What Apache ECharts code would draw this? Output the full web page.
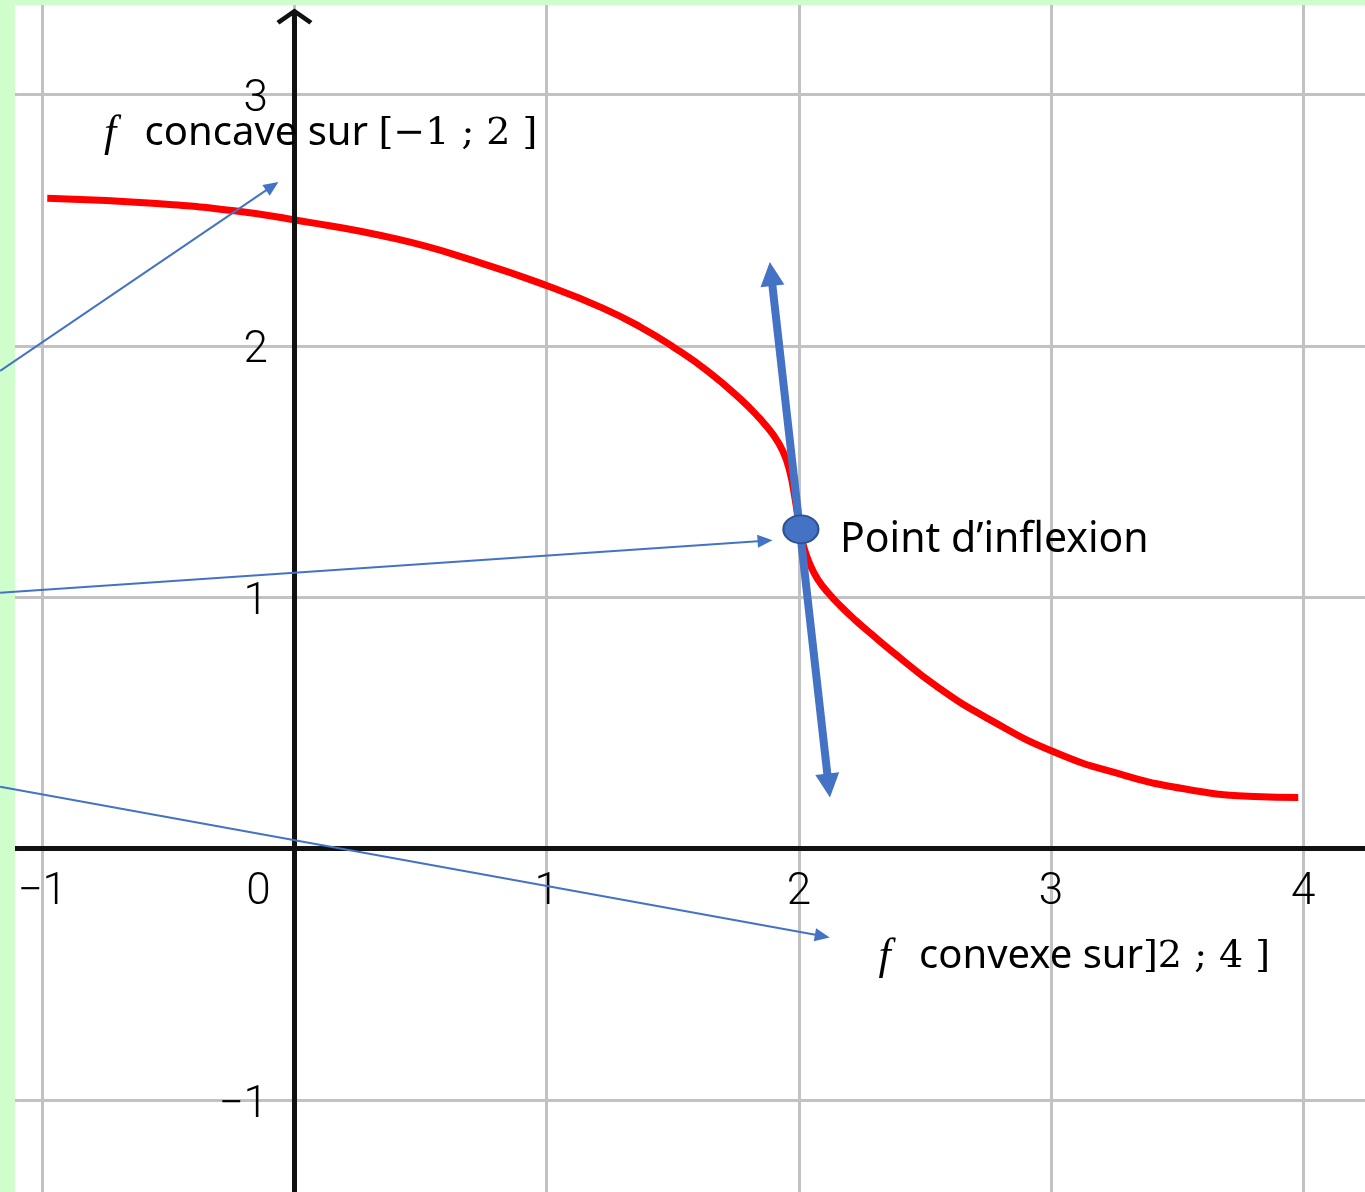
<!DOCTYPE html>
<html>
<head>
<meta charset="utf-8">
<script src="https://cdn.jsdelivr.net/npm/echarts@6/dist/echarts.min.js"></script>
<style>
html, body { margin: 0; padding: 0; background: #fff; }
#chart { width: 1365px; height: 1192px; }
</style>
</head>
<body>
<div id="chart"></div>
<script>
// red curve of f
var curveX = [-0.980, -0.563, -0.238, 0.0, 0.409, 0.734, 1.004, 1.218, 1.373, 1.504, 1.639, 1.770, 1.841, 1.897, 1.937, 1.964, 1.984,
              2.004, 2.020, 2.044, 2.075, 2.115, 2.167, 2.226, 2.294, 2.365, 2.552, 2.750, 3.008, 3.278, 3.544, 3.806, 3.980];
var curveY = [2.587, 2.567, 2.537, 2.501, 2.424, 2.331, 2.238, 2.152, 2.074, 1.994, 1.899, 1.787, 1.715, 1.648, 1.580, 1.500, 1.397,
              1.270, 1.198, 1.130, 1.071, 1.019, 0.963, 0.907, 0.848, 0.788, 0.641, 0.517, 0.386, 0.295, 0.235, 0.207, 0.203];

// point d'inflexion and the tangent through it (ends = arrow heads)
var inflection = [2.008, 1.27];
var tangentFrom = [1.890, 2.286];
var tangentTo = [2.118, 0.251];

// thin annotation arrows: start (left edge) -> head
var arrowFrom = [[-1.167, 1.900], [-1.167, 1.018], [-1.167, 0.246]];
var arrowTo = [[-0.088, 2.635], [1.866, 1.225], [2.093, -0.348]];

// top of the y axis (under the chevron)
var yAxisTop = 3.31;

var xTicks = [-1, 0, 1, 2, 3, 4];
var yTicks = [-1, 1, 2, 3];

var green = '#cffdcc';
var blue = '#4472c4';
var tickFont = { fontFamily: 'Roboto', fontWeight: 300, fontSize: 44, color: '#000' };
var chevron = 'path://M18,0 L36,13 L33,16.5 L20.5,7.5 L20.5,16.5 L15.5,16.5 L15.5,7.5 L3,16.5 L0,13 Z';

function minus(v){
    return String(v).replace('-', '\u2212');
}

var chart = echarts.init(document.getElementById('chart'));

chart.setOption({
    animation: false,
    backgroundColor: '#fff',
    // grid runs past the page so that -2..5 / -2..4 can use interval 1
    grid: {
        left: -210, right: -190.5, top: -157, bottom: -159.4,
        outerBoundsMode: 'none',
        containLabel: false
    },
    xAxis: {
        type: 'value', min: -2, max: 5, interval: 1,
        position: 'bottom', offset: -502.9,
        axisLine: { onZero: false, lineStyle: { color: '#111', width: 5 } },
        axisTick: { show: false },
        splitLine: { show: true, lineStyle: { color: '#c2c2c2', width: 3 } },
        axisLabel: Object.assign({
            margin: 22,
            formatter: function(v){
                if(xTicks.indexOf(v) < 0) return '';
                return v === 0 ? '{z|0}' : minus(v);
            },
            rich: { z: Object.assign({ padding: [0, 72, 0, 0] }, tickFont) }
        }, tickFont)
    },
    yAxis: {
        type: 'value', min: -2, max: 4, interval: 1,
        position: 'left', offset: -504,
        axisLine: { show: true, onZero: false, lineStyle: { color: 'rgba(0,0,0,0)', width: 1 } },
        axisTick: { show: false },
        splitLine: { show: true, lineStyle: { color: '#c2c2c2', width: 3 } },
        axisLabel: Object.assign({
            margin: 26,
            formatter: function(v){
                return yTicks.indexOf(v) < 0 ? '' : '{a|' + minus(v) + '}';
            },
            rich: { a: Object.assign({ padding: [11, 0, 0, 0] }, tickFont) }
        }, tickFont)
    },
    graphic: {
        elements: [
            { type: 'rect', z: 1, shape: { x: 0, y: 0, width: 15, height: 1192 }, style: { fill: green } },
            { type: 'rect', z: 1, shape: { x: 0, y: 0, width: 1365, height: 5 }, style: { fill: green } },
            {
                type: 'text', z: 10, x: 100, y: 134,
                style: {
                    text: '{f|f} concave sur {m|[\u22121 ; 2 ]}',
                    fontFamily: 'Noto Sans', fontSize: 40, fill: '#000', verticalAlign: 'middle',
                    rich: {
                        f: { fontFamily: 'Liberation Serif', fontStyle: 'italic', fontSize: 44, padding: [0, 18, 0, 4] },
                        m: { fontFamily: 'DejaVu Serif', fontSize: 38 }
                    }
                }
            },
            {
                type: 'text', z: 10, x: 840, y: 540,
                style: {
                    text: 'Point d\u2019inflexion',
                    fontFamily: 'Noto Sans', fontSize: 41, fill: '#000', verticalAlign: 'middle'
                }
            },
            {
                type: 'text', z: 10, x: 874.5, y: 957,
                style: {
                    text: '{f|f} convexe sur{m|]2 ; 4 ]}',
                    fontFamily: 'Noto Sans', fontSize: 40, fill: '#000', verticalAlign: 'middle',
                    rich: {
                        f: { fontFamily: 'Liberation Serif', fontStyle: 'italic', fontSize: 44, padding: [0, 18, 0, 4] },
                        m: { fontFamily: 'DejaVu Serif', fontSize: 38 }
                    }
                }
            }
        ]
    },
    series: [
        {
            name: 'f', type: 'line', z: 2, silent: true,
            data: curveX.map(function(x, i){ return [x, curveY[i]]; }),
            smooth: 0.5,
            symbol: 'none',
            lineStyle: { color: '#ff0000', width: 7 }
        },
        {
            name: 'axeY', type: 'lines', coordinateSystem: 'cartesian2d', z: 3, silent: true,
            data: [{ coords: [[0, -2], [0, yAxisTop]] }],
            symbol: ['none', chevron], symbolSize: [[36, 16], [36, 16]],
            lineStyle: { color: '#111', width: 5, opacity: 1, curveness: 0 }
        },
        {
            name: 'tangente', type: 'lines', coordinateSystem: 'cartesian2d', z: 4, silent: true,
            data: [{ coords: [tangentFrom, tangentTo] }],
            symbol: ['triangle', 'triangle'], symbolSize: [[24, 24], [24, 24]],
            lineStyle: { color: blue, width: 8, opacity: 1, curveness: 0 }
        },
        {
            name: 'fleches', type: 'lines', coordinateSystem: 'cartesian2d', z: 4, silent: true,
            data: arrowFrom.map(function(p, i){ return { coords: [p, arrowTo[i]] }; }),
            symbol: ['none', 'triangle'], symbolSize: [[13, 15], [13, 15]],
            lineStyle: { color: blue, width: 2, opacity: 1, curveness: 0 }
        },
        {
            name: 'inflexion', type: 'scatter', z: 5, silent: true,
            data: [inflection],
            symbol: 'circle', symbolSize: [35, 28],
            itemStyle: { color: blue, borderColor: '#2f528f', borderWidth: 2, opacity: 1 }
        }
    ]
});
</script>
</body>
</html>
